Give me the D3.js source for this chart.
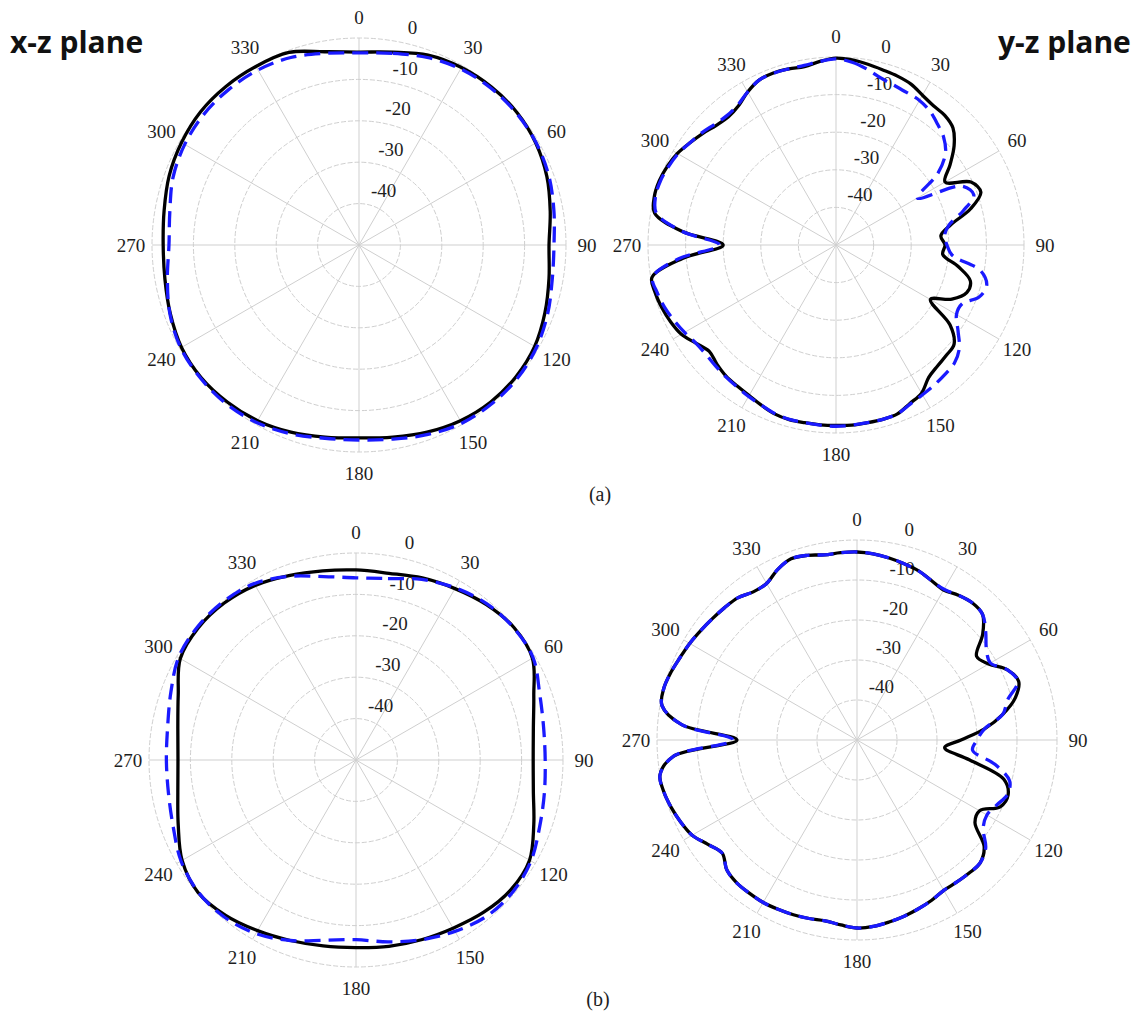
<!DOCTYPE html>
<html>
<head>
<meta charset="utf-8">
<script src="https://cdn.jsdelivr.net/npm/d3@7"></script>
<style>
  html, body { margin: 0; padding: 0; background: #fff; }
  svg { display: block; }
</style>
</head>
<body>
<svg id="chart" width="1137" height="1011"></svg>
<script>
// Angular tick labels (degrees) and radial tick labels (dB)
const angleTicks = [0, 30, 60, 90, 120, 150, 180, 210, 240, 270, 300, 330];
const radialTicks = [-40, -30, -20, -10, 0];

// Sample angles of the patterns (degrees)
const angles10 = [0, 10, 20, 30, 40, 50, 60, 70, 80, 90, 100, 110, 120, 130, 140, 150, 160, 170,
  180, 190, 200, 210, 220, 230, 240, 250, 260, 270, 280, 290, 300, 310, 320, 330, 340, 350];
const angles5 = [0, 5, 10, 15, 20, 25, 30, 35, 40, 45, 50, 55, 60, 65, 70, 75, 80, 85,
  90, 95, 100, 105, 110, 115, 120, 125, 130, 135, 140, 145, 150, 155, 160, 165, 170, 175,
  180, 185, 190, 195, 200, 205, 210, 215, 220, 225, 230, 235, 240, 245, 250, 255, 260, 265,
  270, 275, 280, 285, 290, 295, 300, 305, 310, 315, 320, 325, 330, 335, 340, 345, 350, 355];

// (a) x-z plane, normalized gain in dB
const xzA_solid = [-3.4, -2.7, -1.2, -0.5, -0.2, -0.2, -0.7, -1.7, -3.1, -4.1, -3.4, -2.2,
  -1.0, -0.5, -0.5, -1.0, -1.9, -2.9, -3.4, -2.9, -1.9, -1.0, -0.5, -0.2,
  -0.5, -1.5, -2.4, -2.7, -2.2, -1.2, -0.5, 0.0, 0.0, -0.2, -0.5, -2.6];
const xzA_dashed = [-3.6, -3.0, -1.8, -0.9, -0.5, -0.4, -0.6, -1.2, -2.2, -2.9, -2.6, -1.5,
  -0.5, 0.0, 0.0, -0.3, -1.3, -2.4, -2.9, -2.6, -1.5, -0.5, 0.0, 0.0,
  -0.3, -1.4, -3.0, -4.1, -3.6, -2.2, -1.4, -1.0, -1.0, -1.2, -1.8, -3.0];

// (a) y-z plane
const yzA_solid = [-0.3, -0.6, -1.2, -1.8, -2.2, -2.8, -4.0, -4.8, -5.0, -6.0, -9.0, -13.0,
  -16.5, -10.4, -9.0, -13.0, -19.0, -22.0, -21.0, -21.5, -17.0, -13.0, -13.0, -16.0,
  -21.0, -13.0, -9.0, -8.5, -8.0, -7.0, -4.5, -3.5, -2.2, -2.0, -2.0, -1.9,
  -2.0, -2.0, -2.0, -1.9, -2.2, -3.0, -3.8, -4.2, -4.5, -5.2, -6.0, -4.5,
  -2.5, -1.5, -0.8, -0.3, -0.3, -9.0, -20.0, -9.0, -1.0, 0.0, 0.0, -0.5,
  -1.3, -2.6, -3.8, -5.0, -5.5, -4.8, -3.0, -1.6, -1.3, -1.5, -1.8, -1.0];
const yzA_dashed = [-0.5, -1.2, -2.5, -4.0, -4.8, -5.3, -5.6, -6.5, -8.0, -9.5, -12.0, -17.0,
  -25.0, -13.0, -11.0, -15.0, -19.5, -21.0, -20.5, -19.0, -11.0, -8.5, -9.5, -13.0,
  -13.0, -10.4, -7.2, -5.5, -5.0, -4.5, -4.0, -3.3, -2.2, -2.0, -2.0, -1.9,
  -1.8, -1.9, -2.0, -2.0, -2.3, -3.0, -3.5, -4.0, -4.3, -4.6, -4.8, -4.5,
  -3.5, -2.5, -1.5, -0.8, -0.5, -8.0, -19.0, -9.0, -1.5, -0.3, -0.3, -0.8,
  -1.5, -2.6, -3.5, -4.5, -5.0, -4.5, -3.0, -1.6, -1.4, -1.5, -1.5, -1.0];

// (b) x-z plane
const xzB_solid = [-4.1, -4.2, -3.2, -2.2, -1.0, -0.2, -0.8, -4.3, -6.5, -7.2, -6.5, -4.3,
  -1.6, -1.2, -2.0, -3.1, -3.8, -4.3, -4.7, -4.4, -3.6, -2.4, -1.0, -0.2,
  -1.5, -4.3, -6.3, -7.0, -6.3, -4.3, -1.0, -0.3, -0.5, -1.3, -2.6, -3.6];
const xzB_dashed = [-6.0, -5.5, -3.6, -2.0, -0.8, -0.3, -0.6, -2.8, -4.0, -4.3, -3.8, -2.8,
  -1.2, -0.5, -0.8, -2.2, -3.8, -5.4, -6.6, -5.8, -3.6, -1.6, -0.5, -0.3,
  -1.2, -3.0, -4.0, -4.2, -3.8, -2.4, -0.5, 0.0, -0.1, -0.8, -2.8, -5.0];

// (b) y-z plane
const yzB_solid = [-3.0, -3.3, -3.8, -4.4, -5.0, -6.0, -6.7, -5.8, -5.2, -5.6, -9.0, -13.5,
  -12.0, -8.5, -7.0, -9.0, -13.0, -18.0, -24.0, -28.0, -21.5, -12.0, -9.8, -10.5,
  -14.6, -14.0, -8.5, -6.5, -6.5, -6.6, -6.6, -5.8, -5.1, -4.4, -3.8, -3.2,
  -3.0, -3.6, -4.1, -3.8, -3.5, -3.3, -3.1, -3.2, -3.3, -4.0, -6.0, -4.5,
  -2.4, -1.4, -0.6, 0.0, 0.0, -4.0, -20.0, -6.0, -0.5, 0.0, -0.5, -1.2,
  -1.7, -2.3, -2.8, -3.2, -3.6, -4.8, -4.8, -3.0, -1.8, -2.2, -3.0, -3.0];
const yzB_dashed = [-3.0, -3.3, -3.8, -4.4, -5.0, -6.0, -6.5, -5.8, -5.2, -5.6, -8.0, -10.5,
  -11.5, -8.5, -7.2, -11.0, -13.0, -18.0, -20.0, -21.0, -15.0, -10.5, -10.0, -11.5,
  -12.5, -11.5, -8.0, -6.5, -6.5, -6.6, -6.6, -5.8, -5.1, -4.4, -3.8, -3.2,
  -3.0, -3.6, -4.1, -3.8, -3.5, -3.3, -3.1, -3.2, -3.3, -4.0, -6.0, -4.5,
  -2.4, -1.4, -0.6, 0.0, 0.0, -4.0, -19.0, -6.0, -0.5, 0.0, -0.5, -1.2,
  -1.7, -2.3, -2.8, -3.2, -3.6, -4.8, -4.8, -3.0, -1.8, -2.2, -3.0, -3.0];

const svg = d3.select("#chart");

const panels = [
  { cx: 359, cy: 245, R: 207, angles: angles10, solid: xzA_solid, dashed: xzA_dashed },
  { cx: 836, cy: 245, R: 188, angles: angles5,  solid: yzA_solid, dashed: yzA_dashed },
  { cx: 356, cy: 760, R: 207, angles: angles10, solid: xzB_solid, dashed: xzB_dashed },
  { cx: 857, cy: 740, R: 200, angles: angles5,  solid: yzB_solid, dashed: yzB_dashed }
];

const tickFont = "'Liberation Serif', 'Times New Roman', serif";
const gridColor = "#cfcfcf";

function drawPolar(p) {
  const g = svg.append("g").attr("transform", `translate(${p.cx},${p.cy})`);
  const r = d3.scaleLinear().domain([-50, 0]).range([0, p.R]);
  const theta = d3.scaleLinear().domain([0, 360]).range([0, 2 * Math.PI]);

  // dashed rings every 10 dB
  g.append("g").selectAll("circle")
    .data(d3.range(-40, 1, 10))
    .join("circle")
    .attr("r", d => r(d))
    .attr("fill", "none")
    .attr("stroke", gridColor)
    .attr("stroke-width", 1)
    .attr("stroke-dasharray", "5,2");

  // spokes every 30 degrees
  g.append("g").selectAll("line")
    .data(angleTicks)
    .join("line")
    .attr("x1", 0).attr("y1", 0)
    .attr("x2", d => r(0) * Math.sin(theta(d)))
    .attr("y2", d => -r(0) * Math.cos(theta(d)))
    .attr("stroke", gridColor)
    .attr("stroke-width", 1);

  // angular labels
  g.append("g").selectAll("text")
    .data(angleTicks)
    .join("text")
    .attr("x", d => (r(0) + 21) * Math.sin(theta(d)))
    .attr("y", d => -(r(0) + 21) * Math.cos(theta(d)))
    .attr("text-anchor", "middle")
    .attr("dominant-baseline", "central")
    .attr("font-family", tickFont)
    .attr("font-size", 19)
    .attr("fill", "#1e1e1e")
    .text(d => d);

  // radial labels, set just outside each ring beside the 0 degree spoke
  const la = theta(10);
  g.append("g").selectAll("text")
    .data(radialTicks)
    .join("text")
    .attr("x", d => (r(d) + 14) * Math.sin(la) + 15)
    .attr("y", d => -(r(d) + 14) * Math.cos(la))
    .attr("text-anchor", "middle")
    .attr("dominant-baseline", "central")
    .attr("font-family", tickFont)
    .attr("font-size", 19)
    .attr("fill", "#1e1e1e")
    .text(d => d);

  const line = d3.lineRadial()
    .angle(d => theta(d[0]))
    .radius(d => r(d[1]))
    .curve(d3.curveCatmullRomClosed.alpha(0.5));

  const solidPts = p.angles.map((a, i) => [a, p.solid[i]]);
  const dashedPts = p.angles.map((a, i) => [a, p.dashed[i]]);

  g.append("path")
    .attr("d", line(solidPts))
    .attr("fill", "none")
    .attr("stroke", "#000")
    .attr("stroke-width", 3.3)
    .attr("stroke-linejoin", "round");

  g.append("path")
    .attr("d", line(dashedPts))
    .attr("fill", "none")
    .attr("stroke", "#1a1aff")
    .attr("stroke-width", 3.3)
    .attr("stroke-dasharray", "16,8");
}

panels.forEach(drawPolar);

// plane titles
const titleFont = "'Open Sans', 'Noto Sans', sans-serif";
svg.append("text").attr("x", 10).attr("y", 53)
  .attr("font-family", titleFont).attr("font-weight", 700).attr("font-size", 30)
  .attr("fill", "#111").text("x-z plane");
svg.append("text").attr("x", 998).attr("y", 53)
  .attr("font-family", titleFont).attr("font-weight", 700).attr("font-size", 30)
  .attr("fill", "#111").text("y-z plane");

// sub-figure captions
svg.append("text").attr("x", 600).attr("y", 494)
  .attr("text-anchor", "middle").attr("dominant-baseline", "central")
  .attr("font-family", tickFont).attr("font-size", 20).attr("fill", "#1e1e1e").text("(a)");
svg.append("text").attr("x", 598).attr("y", 999)
  .attr("text-anchor", "middle").attr("dominant-baseline", "central")
  .attr("font-family", tickFont).attr("font-size", 20).attr("fill", "#1e1e1e").text("(b)");
</script>
</body>
</html>
